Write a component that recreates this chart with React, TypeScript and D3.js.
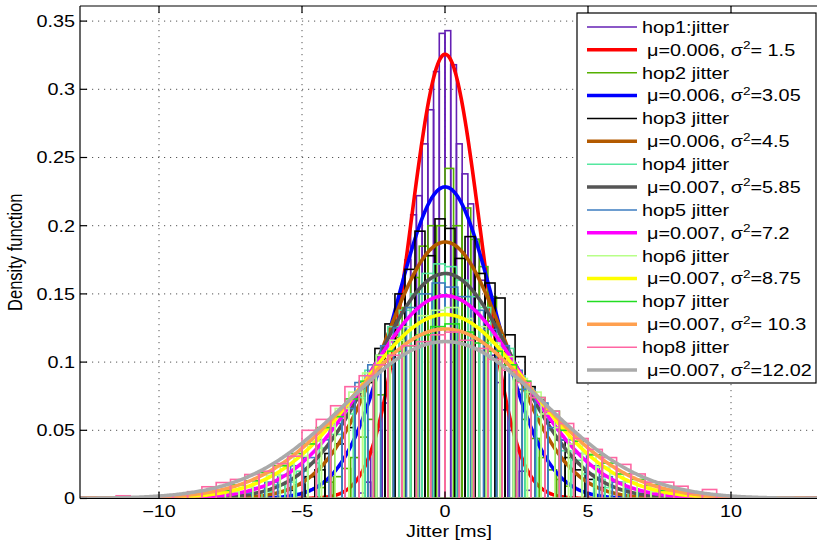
import React from "react";
import * as d3 from "d3";

const W = 817;
const H = 540;
const plotLeft = 80;
const plotRight = 830;
const plotTop = 6;
const plotBottom = 498.5;

const xTicks = [-10, -5, 0, 5, 10];
const xTickLabels = ["\u221210", "\u22125", "0", "5", "10"];
const yTicks = [0, 0.05, 0.1, 0.15, 0.2, 0.25, 0.3, 0.35];
const yTickLabels = ["0", "0.05", "0.1", "0.15", "0.2", "0.25", "0.3", "0.35"];

const hopNames = ["hop1:jitter", "hop2 jitter", "hop3 jitter", "hop4 jitter", "hop5 jitter", "hop6 jitter", "hop7 jitter", "hop8 jitter"];
const hopColors = ["#6420b4", "#55b000", "#000000", "#55e8a0", "#3c7cc0", "#b8ff88", "#22dd22", "#ff66a3"];
const binStart = [-3.0, -4.5, -5.6, -6.4, -7.2, -7.68, -8.0, -11.5];
const binWidth = [0.2, 0.3, 0.35, 0.4, 0.45, 0.48, 0.5, 0.5];

const hop1 = [0.004, 0.012, 0.034, 0.05, 0.07, 0.095, 0.12, 0.15, 0.175, 0.208, 0.222, 0.26, 0.285, 0.313, 0.341, 0.343, 0.318, 0.26, 0.238, 0.216, 0.19, 0.16, 0.13, 0.105, 0.085, 0.065, 0.05, 0.035, 0.02, 0.006];
const hop2 = [0.008, 0.012, 0.016, 0.022, 0.030, 0.045, 0.058, 0.076, 0.098, 0.118, 0.14, 0.162, 0.185, 0.2, 0.2, 0.242, 0.2, 0.213, 0.19, 0.17, 0.148, 0.118, 0.1, 0.08, 0.058, 0.044, 0.03, 0.021, 0.014, 0.009];
const hop3 = [0.006, 0.010, 0.016, 0.021, 0.033, 0.040, 0.052, 0.074, 0.085, 0.110, 0.128, 0.150, 0.168, 0.196, 0.178, 0.205, 0.198, 0.176, 0.192, 0.165, 0.158, 0.147, 0.120, 0.104, 0.082, 0.072, 0.056, 0.043, 0.030, 0.021, 0.014, 0.008];
const hop4 = [0.005, 0.010, 0.012, 0.020, 0.026, 0.037, 0.047, 0.062, 0.074, 0.094, 0.105, 0.126, 0.138, 0.150, 0.165, 0.172, 0.170, 0.160, 0.148, 0.140, 0.120, 0.110, 0.090, 0.078, 0.060, 0.050, 0.035, 0.028, 0.018, 0.014, 0.008, 0.006];
const hop5 = [0.004, 0.008, 0.012, 0.017, 0.024, 0.030, 0.043, 0.055, 0.066, 0.085, 0.098, 0.112, 0.125, 0.140, 0.150, 0.158, 0.155, 0.148, 0.138, 0.124, 0.112, 0.094, 0.080, 0.070, 0.052, 0.043, 0.033, 0.024, 0.016, 0.012, 0.007, 0.005];
const hop6 = [0.005, 0.008, 0.013, 0.017, 0.025, 0.031, 0.042, 0.053, 0.066, 0.078, 0.092, 0.105, 0.116, 0.126, 0.134, 0.138, 0.140, 0.132, 0.126, 0.114, 0.104, 0.088, 0.078, 0.062, 0.052, 0.040, 0.033, 0.023, 0.018, 0.012, 0.009, 0.005];
const hop7 = [0.006, 0.010, 0.013, 0.019, 0.024, 0.033, 0.040, 0.052, 0.060, 0.073, 0.086, 0.098, 0.108, 0.112, 0.120, 0.126, 0.128, 0.122, 0.114, 0.108, 0.098, 0.086, 0.074, 0.064, 0.050, 0.042, 0.032, 0.026, 0.018, 0.014, 0.010, 0.006];
const hop8 = [0.002, 0.0005, 0.001, 0.002, 0.003, 0.005, 0.0086, 0.0117, 0.014, 0.0176, 0.020, 0.0256, 0.031, 0.050, 0.058, 0.068, 0.082, 0.090, 0.098, 0.105, 0.112, 0.115, 0.120, 0.122, 0.116, 0.110, 0.102, 0.094, 0.085, 0.074, 0.064, 0.055, 0.044, 0.036, 0.030, 0.025, 0.018, 0.012, 0.012, 0.009, 0.004, 0.0066, 0.002];
const hopValues = [hop1, hop2, hop3, hop4, hop5, hop6, hop7, hop8];

const fitMu = [0.006, 0.006, 0.006, 0.007, 0.007, 0.007, 0.007, 0.007];
const fitSigma2 = [1.5, 3.05, 4.5, 5.85, 7.2, 8.75, 10.3, 12.02];
const fitLabelPre = ["\u03bc=0.006, \u03c3", "\u03bc=0.006, \u03c3", "\u03bc=0.006, \u03c3", "\u03bc=0.007, \u03c3", "\u03bc=0.007, \u03c3", "\u03bc=0.007, \u03c3", "\u03bc=0.007, \u03c3", "\u03bc=0.007, \u03c3"];
const fitLabelPost = ["= 1.5", "=3.05", "=4.5", "=5.85", "=7.2", "=8.75", "= 10.3", "=12.02"];
const fitColors = ["#ff0000", "#0000ff", "#b35a00", "#555555", "#ff00ff", "#ffff00", "#ffa04f", "#aaaaaa"];

const x = d3.scaleLinear().domain([-10, 10]).range([159, 731]);
const y = d3.scaleLinear().domain([0, 0.35]).range([plotBottom, plotBottom - 7 * 68.2]);

const FONT = "'Liberation Sans', Arial, Helvetica, sans-serif";
const FS = 16;
const SX = 1.24;

function normalPath(mu: number, s2: number): string {
  const x0 = x.invert(plotLeft);
  const x1 = x.invert(plotRight);
  const pts: [number, number][] = [];
  const n = 600;
  for (let i = 0; i <= n; i++) {
    const xv = x0 + ((x1 - x0) * i) / n;
    const v = Math.exp(-((xv - mu) ** 2) / (2 * s2)) / Math.sqrt(2 * Math.PI * s2);
    pts.push([xv, v]);
  }
  const line = d3
    .line<[number, number]>()
    .x((d) => x(d[0]))
    .y((d) => y(d[1]));
  return line(pts) || "";
}

function T(props: { x: number; y: number; anchor?: string; size?: number; children: React.ReactNode }) {
  return (
    <text
      transform={`translate(${props.x},${props.y}) scale(${SX},1)`}
      textAnchor={props.anchor || "start"}
      fontSize={props.size || FS}
      fill="#000"
      xmlSpace="preserve"
    >
      {props.children}
    </text>
  );
}

export default function App() {
  const rowY = (i: number) => 27 + i * 22.87;
  const layers: React.ReactNode[] = [];
  for (let h = 0; h < 8; h++) {
    const vals = hopValues[h];
    layers.push(
      <g key={"h" + h} fill="none" stroke={hopColors[h]} strokeWidth={1.6}>
        {vals.map((v, i) => {
          const a = binStart[h] + i * binWidth[h];
          const b = a + binWidth[h];
          const x0 = x(a);
          const x1 = x(b);
          const yt = y(v);
          return <rect key={i} x={x0} y={yt} width={x1 - x0} height={plotBottom - yt} />;
        })}
      </g>
    );
    layers.push(
      <path key={"c" + h} d={normalPath(fitMu[h], fitSigma2[h])} fill="none" stroke={fitColors[h]} strokeWidth={3.6} strokeLinejoin="round" />
    );
  }

  return (
    <svg width={W} height={H} style={{ position: "absolute", left: 0, top: 0, background: "#fff" }} fontFamily={FONT}>
      <defs>
        <clipPath id="plotclip">
          <rect x={plotLeft} y={plotTop} width={plotRight - plotLeft} height={plotBottom - plotTop} />
        </clipPath>
      </defs>
      <rect x={0} y={0} width={W} height={H} fill="#fff" />
      {/* grid */}
      <g stroke="#555" strokeWidth={1} strokeDasharray="1.2,4.8">
        {xTicks.map((t) => (
          <line key={"gx" + t} x1={x(t)} x2={x(t)} y1={plotTop} y2={plotBottom} />
        ))}
        {yTicks.slice(1).map((t) => (
          <line key={"gy" + t} x1={plotLeft} x2={plotRight} y1={y(t)} y2={y(t)} />
        ))}
      </g>
      <g clipPath="url(#plotclip)">{layers}</g>
      {/* axes frame */}
      <g stroke="#000" strokeWidth={1.2} fill="none">
        <line x1={plotLeft} x2={plotLeft} y1={plotTop} y2={plotBottom} />
        <line x1={plotLeft} x2={plotRight} y1={plotBottom} y2={plotBottom} />
        <line x1={plotLeft} x2={plotRight} y1={plotTop} y2={plotTop} />
        {xTicks.map((t) => (
          <g key={"tx" + t}>
            <line x1={x(t)} x2={x(t)} y1={plotBottom} y2={plotBottom - 7} />
            <line x1={x(t)} x2={x(t)} y1={plotTop} y2={plotTop + 7} />
          </g>
        ))}
        {yTicks.map((t) => (
          <line key={"ty" + t} x1={plotLeft} x2={plotLeft + 7} y1={y(t)} y2={y(t)} />
        ))}
      </g>
      {/* tick labels */}
      {xTicks.map((t, i) => (
        <T key={"lx" + t} x={x(t)} y={517} anchor="middle">
          {xTickLabels[i]}
        </T>
      ))}
      {yTicks.map((t, i) => (
        <T key={"ly" + t} x={75} y={y(t) + 5.8} anchor="end">
          {yTickLabels[i]}
        </T>
      ))}
      <T x={449} y={536.5} anchor="middle">
        Jitter [ms]
      </T>
      <text
        transform={`translate(22, ${(plotTop + plotBottom) / 2}) scale(${SX},1) rotate(-90)`}
        fontSize={16.5}
        textAnchor="middle"
        fill="#000"
      >
        Density function
      </text>
      {/* legend */}
      <rect x={577} y={13} width={239} height={370} fill="#fff" stroke="#000" strokeWidth={1.2} />
      {hopNames.map((name, h) => {
        const r1 = rowY(2 * h);
        const r2 = rowY(2 * h + 1);
        return (
          <g key={"lg" + h}>
            <line x1={587} x2={637} y1={r1} y2={r1} stroke={hopColors[h]} strokeWidth={1.5} />
            <T x={642} y={r1 + 5.8}>
              {name}
            </T>
            <line x1={587} x2={637} y1={r2} y2={r2} stroke={fitColors[h]} strokeWidth={3.5} />
            <T x={647} y={r2 + 5.8}>
              <tspan>{fitLabelPre[h]}</tspan>
              <tspan dy={-6.5} fontSize={11}>2</tspan>
              <tspan dy={6.5}>{fitLabelPost[h]}</tspan>
            </T>
          </g>
        );
      })}
    </svg>
  );
}
